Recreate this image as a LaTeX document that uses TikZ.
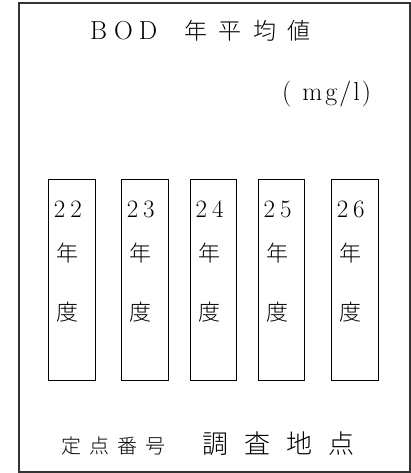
\documentclass[tikz,border=0pt]{standalone}
\usepackage{fontspec}
\newfontfamily\jp{Noto Sans CJK JP}[UprightFont={* Light}]
\begin{document}
\begin{tikzpicture}[x=1pt,y=1pt,
  yearbox/.style={draw, line width=0.8pt, minimum width=46.5pt, minimum height=201pt, inner sep=0},
  txt/.style={inner sep=0, anchor=base west},
  kanji/.style={inner sep=0, anchor=west, font=\jp\fontsize{22}{24}\selectfont}]
\useasboundingbox (0,0) rectangle (411,473);
\node[draw=black!80, line width=1.2pt, minimum width=391pt, minimum height=469pt, inner sep=0] (frame) at (214.5,235.5) {};
\node[txt, font=\fontsize{26}{30}\selectfont] (title) at (90,433)
  {B\hspace{7pt}O\hspace{6pt}D\hspace{27pt}{\jp\fontsize{23}{26}\selectfont 年\hspace{11.5pt}平\hspace{11.5pt}均\hspace{11.5pt}値}};
\node[txt, font=\fontsize{26}{30}\selectfont] (unit) at (282,372)
  {(\hspace{11pt}m\hspace{3pt}g\hspace{2pt}/\hspace{2pt}l\hspace{2pt})};
\foreach \i/\x/\a/\b in {1/71.9/2/2, 2/144.7/2/3, 3/213.5/2/4, 4/281.5/2/5, 5/354.7/2/6} {
  \node[yearbox] (b\i) at (\x,193.5) {};
  \node[txt, font=\fontsize{25}{28}\selectfont] (y\i) at ([xshift=5.5pt,yshift=-39pt]b\i.north west) {\a\hspace{5pt}\b};
  \node[kanji] (n\i) at ([xshift=8pt,yshift=-75pt]b\i.north west) {年};
  \node[kanji] (d\i) at ([xshift=8pt,yshift=-134pt]b\i.north west) {度};
}
\node[inner sep=0, anchor=west, font=\jp\fontsize{20}{22}\selectfont] (num) at (61,27)
  {定\hspace{8pt}点\hspace{8pt}番\hspace{8pt}号};
\node[inner sep=0, anchor=west, font=\jp\fontsize{26}{28}\selectfont] (place) at (202,29)
  {調\hspace{16pt}査\hspace{16pt}地\hspace{16pt}点};
\end{tikzpicture}
\end{document}
